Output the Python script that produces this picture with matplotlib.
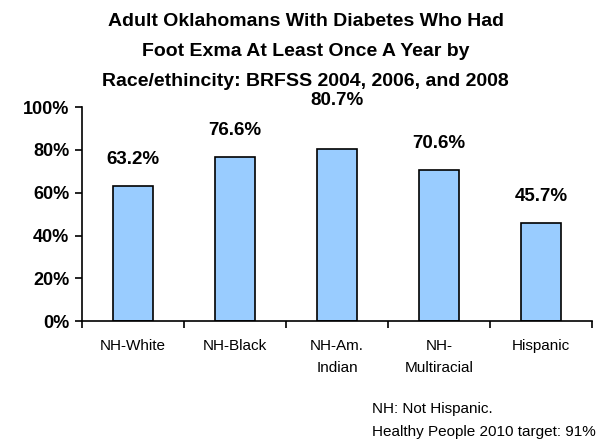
import matplotlib.pyplot as plt
import numpy as np

plt.rcParams['font.family'] = ['Liberation Sans', 'DejaVu Sans']

# Data
groups = ['NH-White', 'NH-Black', 'NH-Am.\nIndian', 'NH-\nMultiracial', 'Hispanic']
pct = [63.2, 76.6, 80.7, 70.6, 45.7]
label_lift = [0, 0, 10, 0, 0]  # extra lift for the label drawn higher in the original

fig = plt.figure(figsize=(6.11, 4.43), dpi=100)
ax = fig.add_axes([0.134, 0.275, 0.835, 0.483])

x = np.arange(len(groups))
ax.bar(x, pct, width=0.39, color='#99ccff', edgecolor='black', linewidth=1.2)

for xi, v, lift in zip(x, pct, label_lift):
    ax.text(xi, v + 12.5 + lift, f'{v:.1f}%', ha='center', va='center',
            fontsize=13.5, fontweight='bold')

ax.set_xlim(-0.5, len(groups) - 0.5)
ax.set_ylim(0, 100)
ax.set_yticks(np.arange(0, 101, 20))
ax.set_yticklabels([f'{t}%' for t in range(0, 101, 20)], fontsize=13, fontweight='bold')

# category boundaries as ticks, labels at centres
ax.set_xticks(np.arange(-0.5, len(groups), 1.0))
ax.set_xticklabels([])
ax.set_xticks(x, minor=True)
ax.set_xticklabels(groups, minor=True, fontsize=11, linespacing=1.7)
ax.tick_params(axis='x', which='minor', length=0, pad=13)
ax.tick_params(axis='x', which='major', length=5, width=1.2, direction='out')
ax.tick_params(axis='y', length=5, width=1.2, direction='out', pad=4)

for s in ['top', 'right']:
    ax.spines[s].set_visible(False)
for s in ['left', 'bottom']:
    ax.spines[s].set_linewidth(1.2)

fig.suptitle('Adult Oklahomans With Diabetes Who Had\nFoot Exma At Least Once A Year by\nRace/ethincity: BRFSS 2004, 2006, and 2008',
             x=0.5, y=0.970, va='top', fontsize=14, fontweight='bold', linespacing=2.0)

fig.text(0.609, 0.051, 'NH: Not Hispanic.\nHealthy People 2010 target: 91%',
         ha='left', va='center', fontsize=11, linespacing=1.85)

fig.savefig('out.png', dpi=100)
